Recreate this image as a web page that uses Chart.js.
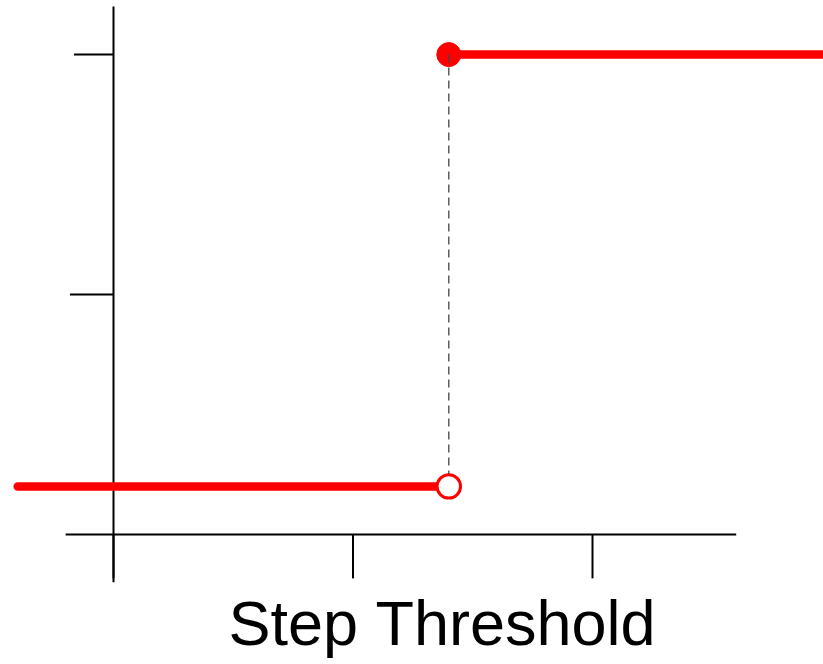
<!DOCTYPE html>
<html>
<head>
<meta charset="utf-8">
<script src="https://cdn.jsdelivr.net/npm/chart.js@4"></script>
<style>
  html, body { margin: 0; padding: 0; background: #ffffff; }
  #wrap { width: 823px; height: 664px; }
</style>
</head>
<body>
<div id="wrap"><canvas id="c" width="823" height="664"></canvas></div>
<script>
// ---- data ----
const chartTitle = "Step Threshold";
const stepX = 1.4;
const lowLevel = 0.1;
const highLevel = 1.0;
const lowSegmentX = [-0.4, 1.4];
const lowSegmentY = [0.1, 0.1];
const highSegmentX = [1.4, 3.0];
const highSegmentY = [1.0, 1.0];
const jumpX = [1.4, 1.4];
const jumpY = [1.0, 0.1];
const xTickValues = [0, 1, 2];
const yTickValues = [1.0, 0.5];
const xAxisExtent = [-0.2, 2.6];
const yAxisExtent = [-0.1, 1.1];

const toPoints = (xs, ys) => xs.map((v, i) => ({ x: v, y: ys[i] }));

// ---- styles ----
const RED = '#ff0000';
const xTickLen = 44;
const yTickLens = [39.5, 43.5];

const handAxes = {
  id: 'handAxes',
  beforeDatasetsDraw(chart) {
    const { ctx, scales: { x, y } } = chart;
    const px = v => x.getPixelForValue(v);
    const py = v => y.getPixelForValue(v);
    const seg = (a, b, c, d) => { ctx.beginPath(); ctx.moveTo(a, b); ctx.lineTo(c, d); ctx.stroke(); };
    ctx.save();
    ctx.strokeStyle = '#000000';
    ctx.lineWidth = 2;
    ctx.lineCap = 'butt';
    const y0 = py(0), x0 = px(0);
    seg(px(xAxisExtent[0]), y0, px(xAxisExtent[1]), y0);
    seg(x0, py(yAxisExtent[0]), x0, py(yAxisExtent[1]));
    xTickValues.forEach(v => seg(px(v), y0, px(v), y0 + xTickLen));
    yTickValues.forEach((v, i) => seg(x0 - yTickLens[i], py(v), x0, py(v)));
    ctx.restore();
  }
};

new Chart(document.getElementById('c'), {
  type: 'scatter',
  data: {
    datasets: [
      { // open circle (top)
        data: [{ x: stepX, y: lowLevel }],
        pointRadius: 11.7, pointBackgroundColor: '#ffffff',
        pointBorderColor: RED, pointBorderWidth: 3, showLine: false, clip: false
      },
      { // dashed connector
        data: toPoints(jumpX, jumpY),
        showLine: true, borderColor: '#444444', borderWidth: 1.3,
        borderDash: [8, 5], pointRadius: 0, clip: false
      },
      { // filled circle
        data: [{ x: stepX, y: highLevel }],
        pointRadius: 12, pointBackgroundColor: RED,
        pointBorderColor: RED, pointBorderWidth: 1, showLine: false, clip: false
      },
      { // high segment
        data: toPoints(highSegmentX, highSegmentY),
        showLine: true, borderColor: RED, borderWidth: 8.5,
        borderCapStyle: 'round', pointRadius: 0, clip: false
      },
      { // low segment
        data: toPoints(lowSegmentX, lowSegmentY),
        showLine: true, borderColor: RED, borderWidth: 8.5,
        borderCapStyle: 'round', pointRadius: 0, clip: false
      }
    ]
  },
  options: {
    responsive: false,
    animation: false,
    devicePixelRatio: 1,
    layout: { autoPadding: false, padding: { left: 61, right: 0, top: 0, bottom: 0 } },
    scales: {
      x: { type: 'linear', display: false, bounds: 'data', min: -0.2192, max: 2.9624 },
      y: { type: 'linear', display: false, bounds: 'data', min: -0.1284, max: 1.1138 }
    },
    plugins: {
      legend: { display: false },
      tooltip: { enabled: false },
      title: {
        display: true,
        text: chartTitle,
        position: 'bottom',
        color: '#000000',
        font: { family: "'Liberation Sans', Arial, sans-serif", size: 63, weight: 'normal', lineHeight: 1 },
        padding: { top: 0, bottom: 5 }
      }
    }
  },
  plugins: [handAxes]
});
</script>
</body>
</html>
